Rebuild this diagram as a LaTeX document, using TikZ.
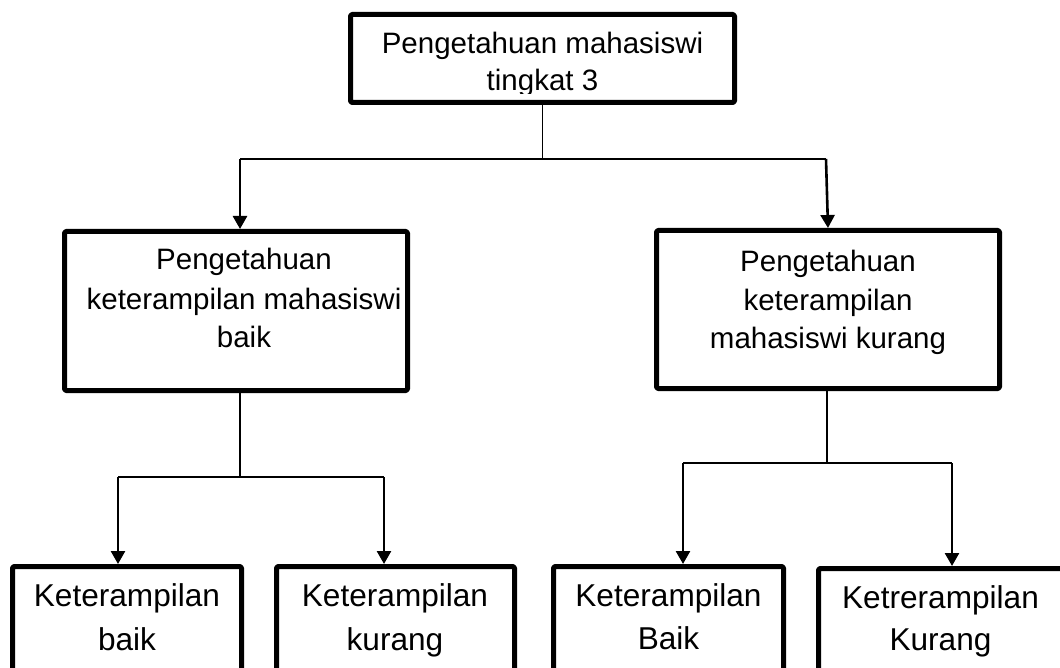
\documentclass[tikz,border=0pt]{standalone}
\usepackage{fontspec}
\setmainfont{Liberation Sans}
\usetikzlibrary{arrows.meta}
\begin{document}
\begin{tikzpicture}[x=1pt,y=-1pt,
  box/.style={draw, line width=5pt, line join=round, rounded corners=1.5pt, inner sep=0pt},
  midtxt/.style={anchor=base, inner sep=0pt, font=\fontsize{29.5}{36}\selectfont},
  lowtxt/.style={anchor=base, inner sep=0pt, font=\fontsize{31.6}{40}\selectfont},
  link/.style={line width=1.5pt},
  arr/.style={line width=2.6pt, -{Triangle[width=14pt,length=13pt]}},
]
\useasboundingbox (0,0) rectangle (1060,668);
\clip (0,0) rectangle (1060,668);

% texts
\node[midtxt] (t1) at (542.5,54) {Pengetahuan mahasiswi};
\begin{scope}
\clip (300,60) rectangle (800,93.5);
\node[midtxt] (t2) at (542.5,91) {tingkat 3};
\end{scope}
\node[midtxt] (l1) at (244,270) {Pengetahuan};
\node[midtxt] (l2) at (244,309.5) {keterampilan mahasiswi};
\node[midtxt] (l3) at (244,347.5) {baik};
\node[midtxt] (r1) at (828,272) {Pengetahuan};
\node[midtxt] (r2) at (828,310.5) {keterampilan};
\node[midtxt] (r3) at (828,348.5) {mahasiswi kurang};
\node[lowtxt] (p1) at (127,606) {Keterampilan};
\node[lowtxt] (p2) at (127,650.5) {baik};
\node[lowtxt] (q1) at (395,606) {Keterampilan};
\node[lowtxt] (q2) at (395,650.5) {kurang};
\node[lowtxt] (u1) at (668.5,606) {Keterampilan};
\node[lowtxt] (u2) at (668.5,649.5) {Baik};
\node[lowtxt] (v1) at (940.5,608) {Ketrerampilan};
\node[lowtxt] (v2) at (940.5,650.5) {Kurang};

% boxes
\node[box, minimum width=384pt, minimum height=88pt] (top) at (542.5,58.5) {};
\node[box, minimum width=343pt, minimum height=159pt] (ml) at (236,311) {};
\node[box, minimum width=343pt, minimum height=158pt] (mr) at (828,309.5) {};
\node[box, minimum width=229pt, minimum height=200pt] (b1) at (127,666.5) {};
\node[box, minimum width=238pt, minimum height=200pt] (b2) at (395.5,666.5) {};
\node[box, minimum width=230pt, minimum height=200pt] (b3) at (668.5,666.5) {};
\node[box, minimum width=249pt, minimum height=200pt] (b4) at (943,668.5) {};

% connectors top
\coordinate (hl) at (240,159);
\coordinate (hr) at (826,159);
\draw[link] (top.south) -- (top.south |- hl);
\draw[link] (hl) -- (hr);
\draw[arr] (hl) -- (hl |- ml.north);
\draw[arr] (hr) -- ([xshift=2pt]hr |- mr.north);

% connectors lower left
\coordinate (ls) at (240,477);
\coordinate (la) at (118,477);
\coordinate (lb) at (384,477);
\draw[link] (ls |- ml.south) -- (ls);
\draw[link] (la) -- (lb);
\draw[arr] (la) -- (la |- b1.north);
\draw[arr] (lb) -- (lb |- b2.north);

% connectors lower right
\coordinate (rs) at (827,463);
\coordinate (ra) at (683,463);
\coordinate (rb) at (952,463);
\draw[link] (rs |- mr.south) -- (rs);
\draw[link] (ra) -- (rb);
\draw[arr] (ra) -- (ra |- b3.north);
\draw[arr] (rb) -- (rb |- b4.north);
\end{tikzpicture}
\end{document}
